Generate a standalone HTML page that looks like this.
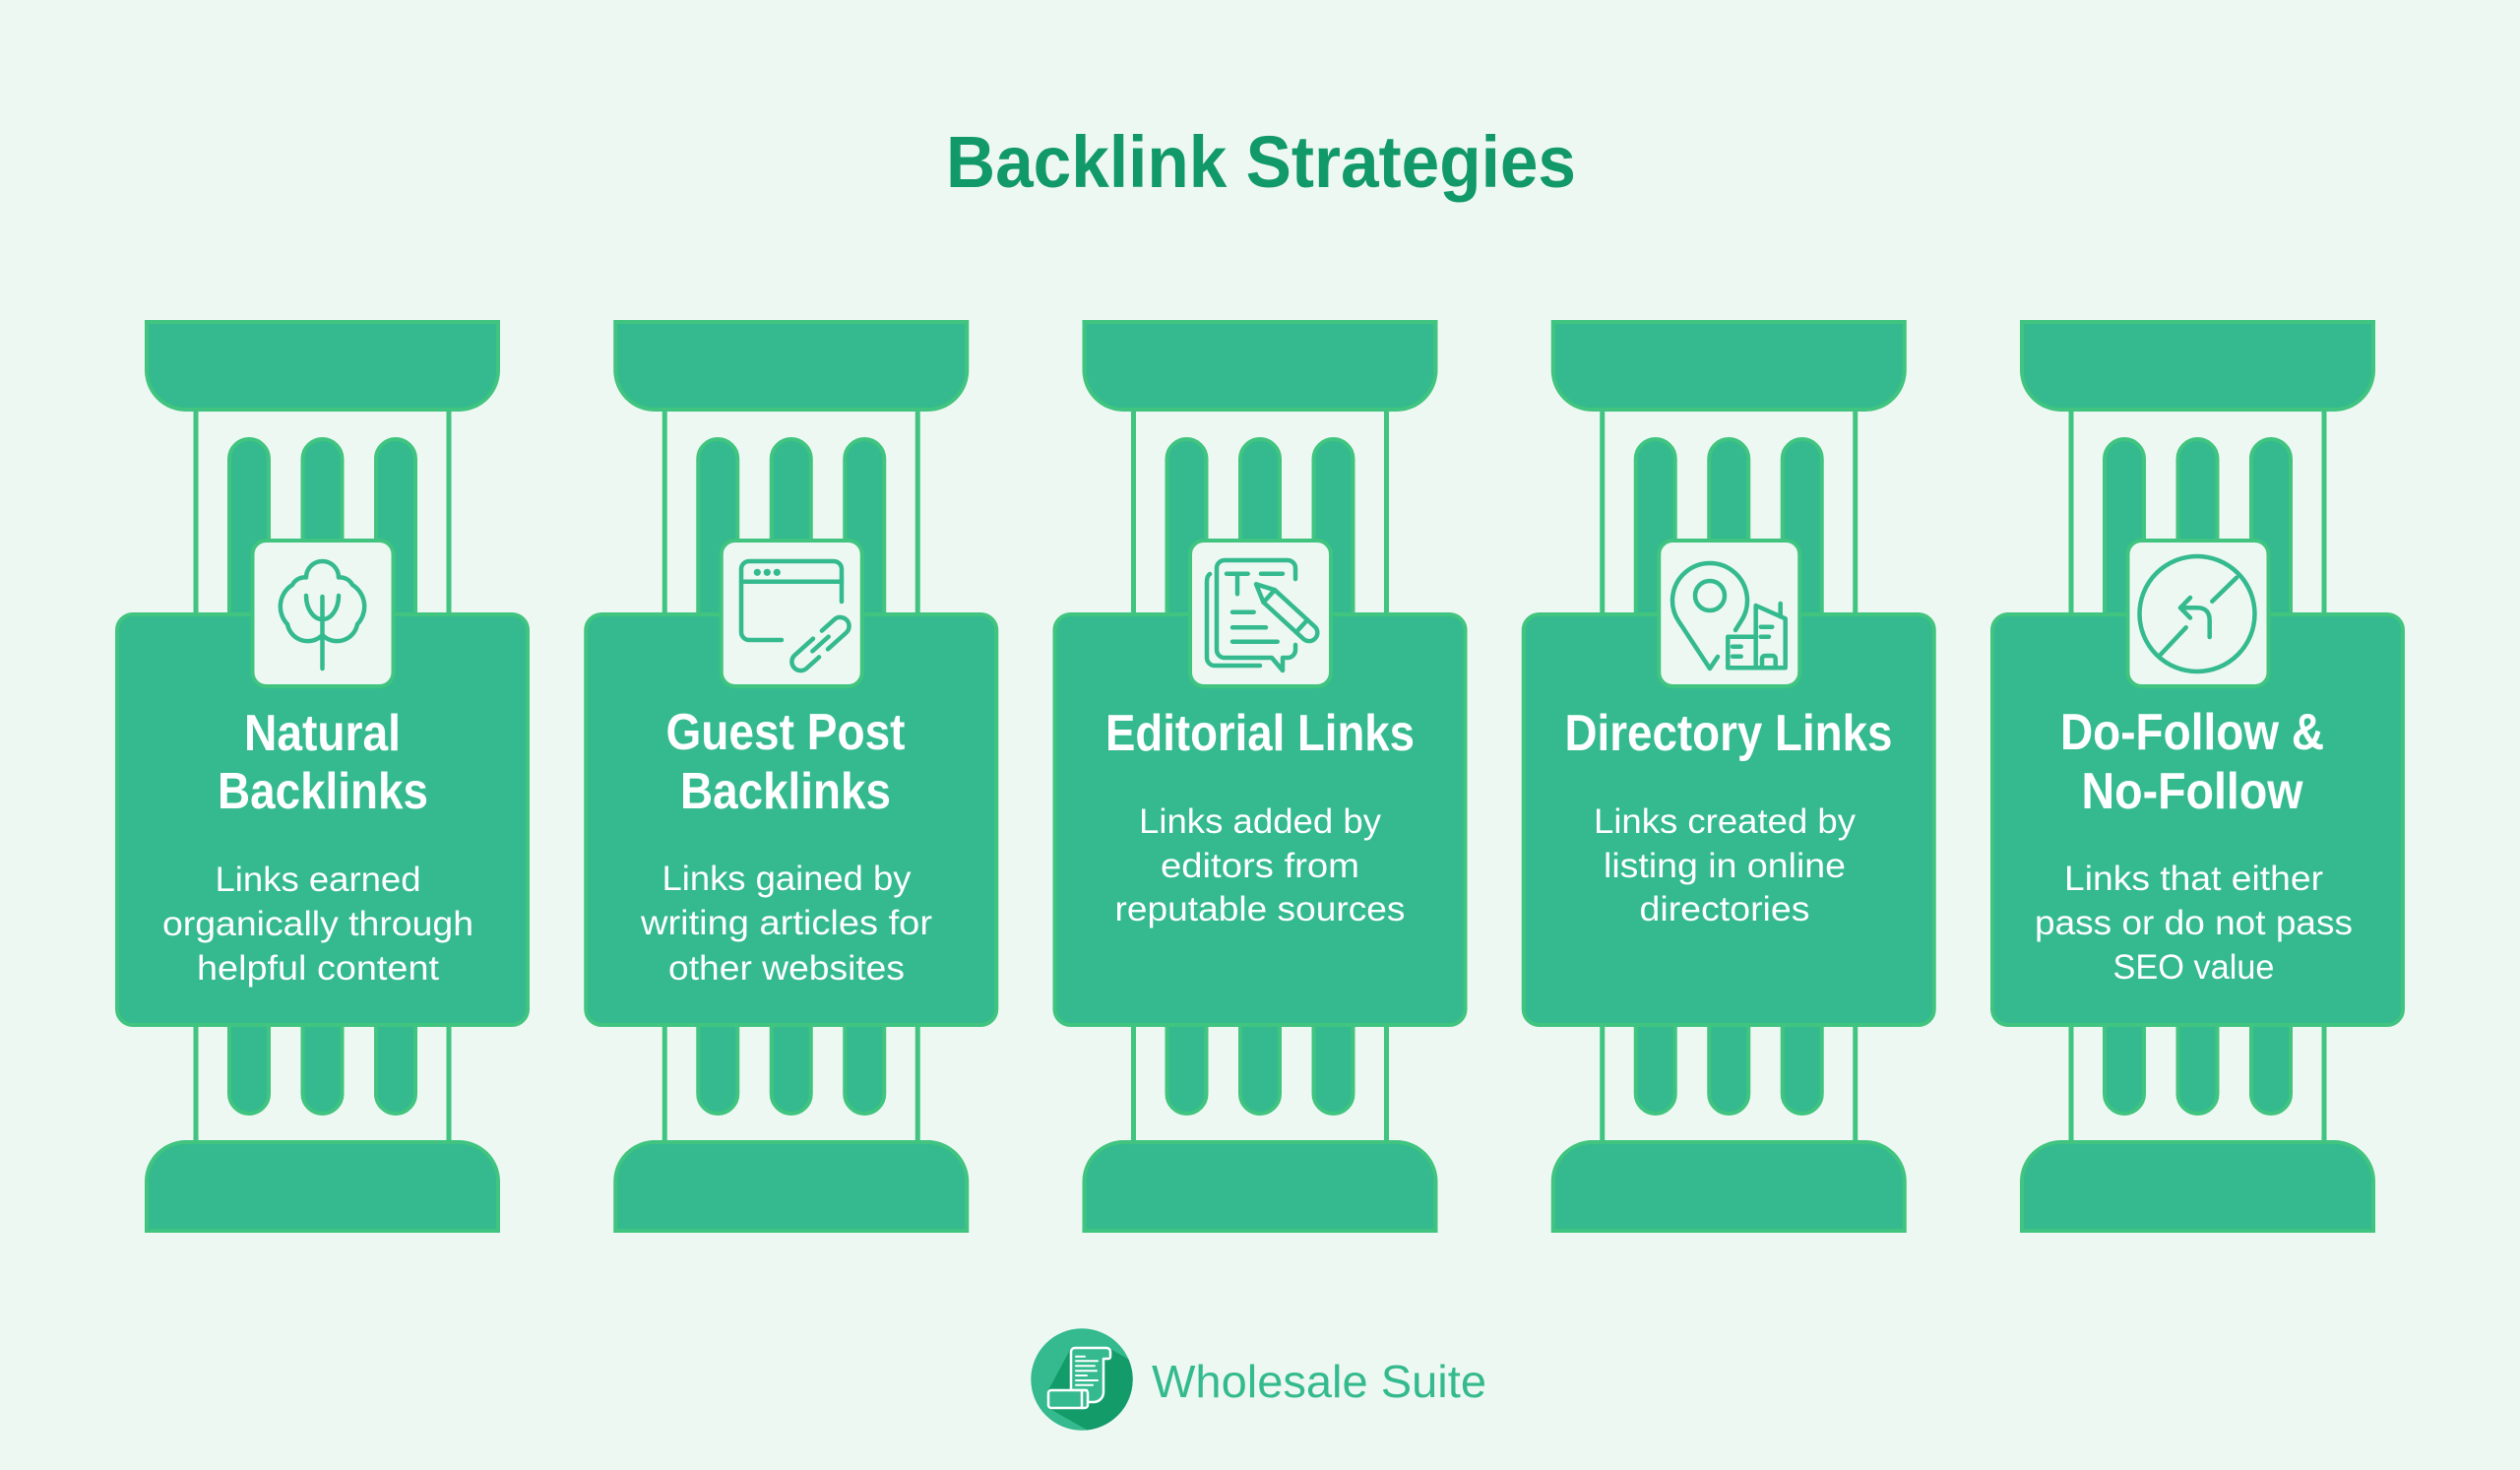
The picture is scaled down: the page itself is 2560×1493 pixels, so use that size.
<!DOCTYPE html>
<html>
<head>
<meta charset="utf-8">
<style>
  html,body{margin:0;padding:0;background:#edf8f3;}
  svg{display:block;}
  .p{fill:#34ba8e;stroke:#40c47f;stroke-width:4;}
  .ib{fill:#edf8f3;stroke:#40c47f;stroke-width:4;}
  .rail{fill:#40c47f;}
  .ic{fill:none;stroke:#34ba8e;stroke-width:4.5;stroke-linecap:round;stroke-linejoin:round;}
  .t{font-family:"Liberation Sans",Arial,sans-serif;font-weight:700;font-size:52px;fill:#ffffff;}
  .d{font-family:"Liberation Sans",Arial,sans-serif;font-weight:400;font-size:35px;fill:#ffffff;}
</style>
</head>
<body>
<svg width="2560" height="1493" viewBox="0 0 2560 1493" xmlns="http://www.w3.org/2000/svg">
  <defs>
    <g id="pillar">
      <rect class="rail" x="-131" y="414" width="5" height="748"/>
      <rect class="rail" x="126" y="414" width="5" height="748"/>
      <rect class="p" x="-94.5" y="446" width="40" height="200" rx="20"/>
      <rect class="p" x="-20" y="446" width="40" height="200" rx="20"/>
      <rect class="p" x="54.5" y="446" width="40" height="200" rx="20"/>
      <rect class="p" x="-94.5" y="990" width="40" height="141" rx="20"/>
      <rect class="p" x="-20" y="990" width="40" height="141" rx="20"/>
      <rect class="p" x="54.5" y="990" width="40" height="141" rx="20"/>
      <path class="p" d="M-178.5,327 H178.5 V376 A40,40 0 0 1 138.5,416 H-138.5 A40,40 0 0 1 -178.5,376 Z"/>
      <path class="p" d="M-178.5,1250 V1200 A40,40 0 0 1 -138.5,1160 H138.5 A40,40 0 0 1 178.5,1200 V1250 Z"/>
      <rect class="p" x="-208.5" y="624" width="417" height="417" rx="16"/>
      <rect class="ib" x="-71" y="549" width="143" height="148" rx="14"/>
    </g>
    <clipPath id="logoclip"><circle cx="1099" cy="1401" r="51.7"/></clipPath>
  </defs>

  <rect x="0" y="0" width="2560" height="1493" fill="#edf8f3"/>

  <text x="1281" y="190" font-family="Liberation Sans, Arial, sans-serif" font-weight="700" font-size="74" fill="#12996a" text-anchor="middle" textLength="640" lengthAdjust="spacingAndGlyphs">Backlink Strategies</text>

  <use href="#pillar" transform="translate(327.5,0)"/>
  <use href="#pillar" transform="translate(803.75,0)"/>
  <use href="#pillar" transform="translate(1280,0)"/>
  <use href="#pillar" transform="translate(1756.25,0)"/>
  <use href="#pillar" transform="translate(2232.5,0)"/>

  <!-- Icon 1: tree -->
  <g class="ic">
    <path d="M327.5,645 A21,21 0 0 1 292,634 A26,26 0 0 1 297,594 A14,14 0 0 1 311,586.5 A16.5,16.5 0 0 1 344,586.5 A14,14 0 0 1 358,594 A26,26 0 0 1 363,634 A21,21 0 0 1 327.5,645 Z"/>
    <path d="M327.5,606 V679"/>
    <path d="M311,605 A16.5,24 0 0 0 327.5,629"/>
    <path d="M344,605 A16.5,24 0 0 1 327.5,629"/>
  </g>

  <!-- Icon 2: browser + link -->
  <g class="ic">
    <path d="M794,650 H761 A8,8 0 0 1 753,642 V578 A8,8 0 0 1 761,570 H847 A8,8 0 0 1 855,578 V611"/>
    <path d="M753,590.7 H855"/>
    <g transform="translate(833.5,654) rotate(-42)">
      <path d="M-2,-9 H-27 A9,9 0 0 0 -27,9 H-10"/>
      <path d="M2,9 H27 A9,9 0 0 0 27,-9 H10"/>
      <path d="M-11,0 H11"/>
    </g>
  </g>
  <circle cx="769.3" cy="581.3" r="3.6" fill="#34ba8e"/>
  <circle cx="779.3" cy="581.3" r="3.6" fill="#34ba8e"/>
  <circle cx="789.3" cy="581.3" r="3.6" fill="#34ba8e"/>

  <!-- Icon 3: editorial -->
  <g class="ic">
    <path d="M1229,583 Q1226,585 1226,591 V668 A8,8 0 0 0 1234,676 H1280"/>
    <path d="M1316,588 V577 A8,8 0 0 0 1308,569 H1244 A8,8 0 0 0 1236,577 V660 A8,8 0 0 0 1244,668 H1292 L1303,681 V668 H1308 A8,8 0 0 0 1316,660 V655"/>
    <path d="M1246,582.7 H1267.7 M1257,582.7 V603.3"/>
    <path d="M1281,582.7 H1303"/>
    <path d="M1252,621.7 H1273.7 M1252,637.3 H1286 M1252,651.7 H1297.7"/>
    <g transform="translate(1276,593.3) rotate(42.5)">
      <path d="M0,0 L18,-8.5 H73 A8.5,8.5 0 0 1 73,8.5 H18 Z" fill="#edf8f3"/>
      <path d="M63,-8.5 V8.5"/>
      <path d="M18,-8.5 V8.5"/>
    </g>
  </g>

  <!-- Icon 4: pin + building -->
  <g class="ic">
    <path d="M1745,667 L1737,679 L1705.5,631.2 A38,38 0 1 1 1768.5,631.2 L1763,640"/>
    <circle cx="1737" cy="605" r="15"/>
    <path d="M1755.3,678.3 H1813.7 V628.3 L1783.7,615 V678.3"/>
    <path d="M1808.7,613 V626"/>
    <path d="M1783.7,646.7 H1755.3 V678.3"/>
    <path d="M1760,656.7 H1768.7 M1760,666.7 H1768.7"/>
    <path d="M1788.7,636.7 H1800.3 M1788.7,646.7 H1797"/>
    <path d="M1790,678 V669 A3,3 0 0 1 1793,666 H1800.7 A3,3 0 0 1 1803.7,669 V678"/>
  </g>

  <!-- Icon 5: no-turn -->
  <g class="ic">
    <circle cx="2232" cy="623.5" r="58.5"/>
    <path d="M2194.7,665 L2220.7,637.3"/>
    <path d="M2247.3,610.7 L2272,586.7"/>
    <path d="M2244.7,647 V630 Q2244.7,617.3 2232,617.3 H2215"/>
    <path d="M2225,607 L2215,617.3 L2225,627.5"/>
  </g>

  <!-- Texts -->
  <text class="t" x="327.5" y="762" text-anchor="middle" textLength="159" lengthAdjust="spacingAndGlyphs">Natural</text>
  <text class="t" x="328" y="821" text-anchor="middle" textLength="214" lengthAdjust="spacingAndGlyphs">Backlinks</text>
  <text class="d" x="323" y="905" text-anchor="middle" textLength="209" lengthAdjust="spacingAndGlyphs">Links earned</text>
  <text class="d" x="323" y="950" text-anchor="middle" textLength="316" lengthAdjust="spacingAndGlyphs">organically through</text>
  <text class="d" x="323" y="995" text-anchor="middle" textLength="246" lengthAdjust="spacingAndGlyphs">helpful content</text>

  <text class="t" x="798" y="761" text-anchor="middle" textLength="243" lengthAdjust="spacingAndGlyphs">Guest Post</text>
  <text class="t" x="798" y="821" text-anchor="middle" textLength="214" lengthAdjust="spacingAndGlyphs">Backlinks</text>
  <text class="d" x="799" y="904" text-anchor="middle" textLength="253" lengthAdjust="spacingAndGlyphs">Links gained by</text>
  <text class="d" x="799" y="949" text-anchor="middle" textLength="296" lengthAdjust="spacingAndGlyphs">writing articles for</text>
  <text class="d" x="799" y="995" text-anchor="middle" textLength="240" lengthAdjust="spacingAndGlyphs">other websites</text>

  <text class="t" x="1280" y="762" text-anchor="middle" textLength="314" lengthAdjust="spacingAndGlyphs">Editorial Links</text>
  <text class="d" x="1280" y="846" text-anchor="middle" textLength="246" lengthAdjust="spacingAndGlyphs">Links added by</text>
  <text class="d" x="1280" y="891" text-anchor="middle" textLength="202" lengthAdjust="spacingAndGlyphs">editors from</text>
  <text class="d" x="1280" y="935" text-anchor="middle" textLength="295" lengthAdjust="spacingAndGlyphs">reputable sources</text>

  <text class="t" x="1756" y="762" text-anchor="middle" textLength="333" lengthAdjust="spacingAndGlyphs">Directory Links</text>
  <text class="d" x="1752" y="846" text-anchor="middle" textLength="266" lengthAdjust="spacingAndGlyphs">Links created by</text>
  <text class="d" x="1752" y="891" text-anchor="middle" textLength="246" lengthAdjust="spacingAndGlyphs">listing in online</text>
  <text class="d" x="1752" y="935" text-anchor="middle" textLength="173" lengthAdjust="spacingAndGlyphs">directories</text>

  <text class="t" x="2227" y="761" text-anchor="middle" textLength="268" lengthAdjust="spacingAndGlyphs">Do-Follow &amp;</text>
  <text class="t" x="2227" y="821" text-anchor="middle" textLength="225" lengthAdjust="spacingAndGlyphs">No-Follow</text>
  <text class="d" x="2228.5" y="904" text-anchor="middle" textLength="263" lengthAdjust="spacingAndGlyphs">Links that either</text>
  <text class="d" x="2228.5" y="949" text-anchor="middle" textLength="323" lengthAdjust="spacingAndGlyphs">pass or do not pass</text>
  <text class="d" x="2228.5" y="994" text-anchor="middle" textLength="164" lengthAdjust="spacingAndGlyphs">SEO value</text>

  <!-- Logo -->
  <circle cx="1099" cy="1401" r="51.7" fill="#34ba8e"/>
  <g clip-path="url(#logoclip)">
    <polygon points="1088,1369 1128,1370 1330,1485 1267,1545 1065,1430 1065,1412" fill="#139c6a"/>
  </g>
  <g fill="#34ba8e" stroke="#ffffff" stroke-width="2.5" stroke-linejoin="round" stroke-linecap="round">
    <path d="M1088,1412 V1373 A4,4 0 0 1 1092,1369 H1124 A4,4 0 0 1 1128,1373 V1378 A2,2 0 0 1 1126,1380 H1121 V1414 A10,10 0 0 1 1111,1424 H1104 V1412 Z"/>
    <rect x="1065" y="1412" width="40" height="18" rx="3"/>
    <path d="M1099,1412 V1430" fill="none"/>
  </g>
  <g stroke="#ffffff" stroke-width="2" stroke-linecap="round">
    <path d="M1093,1377.7 H1102 M1093,1382.3 H1115 M1093,1387.3 H1112 M1093,1392.3 H1114 M1093,1397 H1104 M1093,1402 H1115 M1093,1406.7 H1110"/>
  </g>
  <text x="1170" y="1419" font-family="Liberation Sans, Arial, sans-serif" font-weight="400" font-size="46" fill="#34ba8e" textLength="340" lengthAdjust="spacingAndGlyphs">Wholesale Suite</text>
</svg>
</body>
</html>
